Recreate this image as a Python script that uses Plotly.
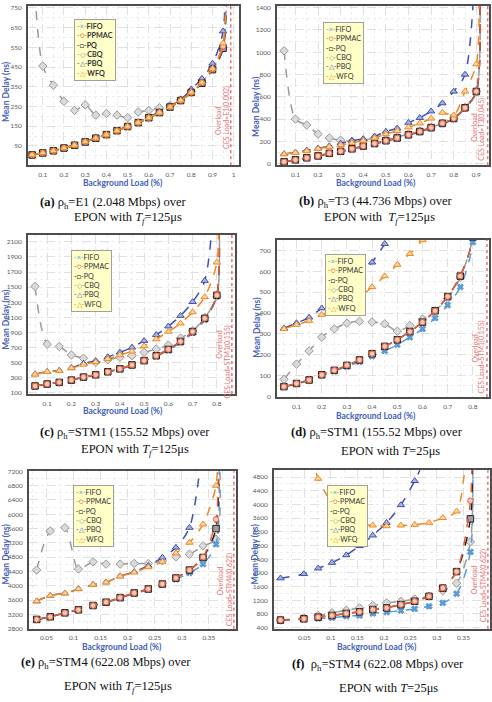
import plotly.graph_objects as go

W, H = 492, 702

# ---------------- data ----------------
series_names = ["FIFO", "PPMAC", "PQ", "CBQ", "PBQ", "WFQ"]

# (a) E1, Tf=125us
x_a = [0.05, 0.10, 0.15, 0.20, 0.25, 0.30, 0.35, 0.40, 0.45, 0.50, 0.55, 0.60, 0.65,
       0.70, 0.75, 0.80, 0.85, 0.90, 0.95, 0.952]
fifo_a = [3, 13, 24, 38, 52, 69, 88, 106, 126, 147, 167, 192, 218, 246, 279, 320, 368, 436, 545, 1500]
ppmac_a = [4, 14, 25, 39, 53, 70, 89, 107, 127, 148, 168, 193, 219, 247, 280, 321, 370, 440, 555, 1500]
pq_a = [4, 14, 25, 39, 53, 70, 89, 107, 127, 148, 168, 193, 219, 247, 280, 321, 368, 437, 545, 1500]
cbq_a = [1100, 455, 358, 276, 230, 258, 206, 214, 206, 193, 222, 230, 243, 255, 283, 325, 372, 445, 548, 1500]
pbq_a = [5, 15, 26, 40, 55, 72, 91, 109, 129, 150, 171, 196, 223, 252, 285, 337, 391, 468, 632, 1500]
wfq_a = [4, 14, 25, 39, 53, 70, 89, 107, 127, 148, 168, 193, 219, 247, 281, 322, 372, 442, 571, 1500]

# (b) T3, Tf=125us
x_b = [0.05, 0.10, 0.15, 0.20, 0.25, 0.30, 0.35, 0.40, 0.45, 0.50, 0.55, 0.60, 0.65,
       0.70, 0.75, 0.80, 0.85, 0.90, 0.902]
fifo_b = [16, 32, 50, 67, 89, 107, 130, 153, 176, 201, 225, 254, 283, 318, 356, 400, 495, 640, 2500]
ppmac_b = [18, 35, 53, 70, 93, 111, 134, 158, 181, 207, 231, 260, 289, 324, 362, 406, 502, 648, 2500]
pq_b = [18, 35, 53, 70, 93, 111, 134, 158, 181, 207, 231, 260, 289, 324, 362, 406, 502, 648, 2500]
cbq_b = [1013, 400, 347, 266, 231, 210, 201, 207, 231, 215, 240, 265, 292, 326, 364, 408, 505, 650, 2500]
pbq_b = [88, 102, 120, 138, 158, 182, 207, 222, 245, 289, 318, 368, 412, 470, 543, 648, 800, 2000, None]
wfq_b = [85, 99, 114, 134, 152, 169, 187, 207, 231, 266, 295, 327, 362, 406, 458, 435, 648, 893, 2500]

# (c) STM1, Tf=125us
x_c = [0.05, 0.10, 0.15, 0.20, 0.25, 0.30, 0.35, 0.40, 0.45, 0.50, 0.55, 0.60, 0.65,
       0.70, 0.75, 0.80, 0.802]
fifo_c = [190, 215, 238, 268, 308, 338, 378, 415, 466, 522, 585, 665, 768, 895, 1068, 1378, 3000]
ppmac_c = [192, 218, 240, 270, 310, 340, 380, 419, 471, 528, 593, 676, 781, 912, 1087, 1393, 3000]
pq_c = [192, 218, 240, 270, 310, 340, 380, 419, 471, 528, 593, 676, 781, 912, 1087, 1393, 3000]
cbq_c = [1510, 746, 716, 602, 559, 506, 537, 572, 593, 637, 681, 733, 825, 921, 1096, 1380, 3000]
pbq_c = [348, 382, 398, 432, 490, 525, 576, 637, 703, 790, 869, 982, 1122, 1305, 1585, 3200, None]
wfq_c = [345, 380, 393, 428, 476, 510, 550, 602, 650, 720, 812, 912, 1021, 1170, 1371, 1829, 3000]

# (d) STM1, T=25us
x_d = [0.05, 0.10, 0.15, 0.20, 0.25, 0.30, 0.35, 0.40, 0.45, 0.50, 0.55, 0.60, 0.65,
       0.70, 0.75, 0.80, 0.802]
fifo_d = [46, 60, 77, 101, 121, 143, 166, 193, 218, 248, 284, 324, 376, 438, 525, 740, 2000]
ppmac_d = [47, 62, 79, 104, 125, 149, 175, 205, 240, 272, 311, 356, 411, 479, 577, 765, 2000]
pq_d = [47, 62, 79, 104, 125, 149, 175, 205, 240, 272, 311, 356, 411, 479, 577, 765, 2000]
cbq_d = [82, 155, 218, 284, 324, 351, 360, 357, 348, 313, 340, 371, 411, 471, 572, 770, 2000]
pbq_d = [327, 352, 379, 423, 470, 520, 578, 643, 732, 840, None, None, None, None, None, None, None]
wfq_d = [324, 344, 363, 392, 414, 442, 476, 525, 577, 632, 684, 750, 820, None, None, None, None]

# (e) STM4, Tf=125us
x_e = [0.032, 0.057, 0.084, 0.109, 0.136, 0.160, 0.186, 0.212, 0.238, 0.264, 0.289,
       0.314, 0.339, 0.363, 0.365]
fifo_e = [3055, 3128, 3238, 3320, 3440, 3530, 3655, 3780, 3890, 4025, 4180, 4356, 4606, 5161, 9000]
ppmac_e = [3059, 3133, 3244, 3328, 3448, 3541, 3670, 3800, 3911, 4050, 4217, 4439, 4800, 5856, 9000]
pq_e = [3059, 3133, 3244, 3328, 3448, 3541, 3670, 3800, 3911, 4050, 4217, 4439, 4791, 5597, 9000]
cbq_e = [4439, 5532, 5624, 4467, 4670, 4606, 4606, 4624, 4624, 4700, 4809, 4883, 5115, 5300, 9000]
pbq_e = [3569, 3726, 3791, 3911, 4032, 4100, 4270, 4390, 4560, 4791, 5069, 5624, 8000, None, None]
wfq_e = [3569, 3726, 3791, 3911, 4032, 4096, 4263, 4374, 4522, 4670, 4911, 5208, 5717, 6800, 9000]

# (f) STM4, T=25us
x_f = [0.005, 0.049, 0.076, 0.102, 0.129, 0.154, 0.179, 0.205, 0.232, 0.258, 0.285,
       0.311, 0.337, 0.363, 0.365]
fifo_f = [612, 641, 670, 689, 737, 757, 815, 853, 901, 949, 1027, 1123, 1393, 2617, 7000]
ppmac_f = [622, 660, 708, 757, 815, 863, 930, 978, 1075, 1171, 1316, 1557, 2039, 4111, 7000]
pq_f = [622, 660, 708, 757, 815, 863, 930, 978, 1075, 1171, 1316, 1557, 2039, 3581, 7000]
cbq_f = [622, 689, 757, 834, 911, 978, 1046, 1123, 1171, 1239, 1316, 1480, 1701, 2906, 7000]
pbq_f = [1846, 1971, 2135, 2299, 2521, 2791, 3099, 3466, 3986, 4690, 5600, None, None, None, None]
wfq_f = [9000, 6500, 4757, 4050, 3620, 3430, 3390, 3370, 3390, 3410, 3470, 3610, 3800, 8000, None]

ces_labels = ["CES Load=E1(0.002)", "CES Load=T3(0.045)", "CES Load=STM1(0.155)",
              "CES Load=STM1(0.155)", "CES Load=STM4(0.622)", "CES Load=STM4(0.622)"]
overload_x = [0.986, 0.95, 0.862, 0.856, 0.396, 0.396]

x_ticks_a = [0.1, 0.2, 0.3, 0.4, 0.5, 0.6, 0.7, 0.8, 0.9, 1]
x_ticks_b = [0.1, 0.2, 0.3, 0.4, 0.5, 0.6, 0.7, 0.8, 0.9]
x_ticks_cd = [0.1, 0.2, 0.3, 0.4, 0.5, 0.6, 0.7, 0.8]
x_ticks_ef = [0.05, 0.1, 0.15, 0.2, 0.25, 0.3, 0.35]
y_ticks_a = [50, 150, 250, 350, 450, 550, 650, 750]
y_ticks_b = [0, 200, 400, 600, 800, 1000, 1200, 1400]
y_ticks_c = [100, 300, 500, 700, 900, 1100, 1300, 1500, 1700, 1900, 2100]
y_ticks_d = [0, 100, 200, 300, 400, 500, 600, 700]
y_ticks_e = [2800, 3200, 3600, 4000, 4400, 4800, 5200, 5600, 6000, 6400, 6800, 7200]
y_ticks_f = [400, 800, 1200, 1600, 2000, 2400, 2800, 3200, 3600, 4000, 4400, 4800]

captions = [
    ("<b>(a)</b> ρ<sub>h</sub>=E1 (2.048 Mbps) over", "EPON with <i>T<sub>f</sub></i>=125μs"),
    ("<b>(b)</b> ρ<sub>h</sub>=T3 (44.736 Mbps) over", "EPON with  <i>T<sub>f</sub></i>=125μs"),
    ("<b>(c)</b> ρ<sub>h</sub>=STM1 (155.52 Mbps) over", "EPON with <i>T<sub>f</sub></i>=125μs"),
    ("<b>(d)</b> ρ<sub>h</sub>=STM1 (155.52 Mbps) over", "EPON with <i>T</i>=25μs"),
    ("<b>(e)</b> ρ<sub>h</sub>=STM4 (622.08 Mbps) over", "EPON with <i>T<sub>f</sub></i>=125μs"),
    ("<b>(f)</b>  ρ<sub>h</sub>=STM4 (622.08 Mbps) over", "EPON with <i>T</i>=25μs"),
]

# ---------------- styles / layout ----------------
styles = {
    "FIFO": dict(color="#5B9BD5", symbol="x", fill="#5B9BD5", glyph="×", size=5.5),
    "PPMAC": dict(color="#E8603C", symbol="circle", fill="#F8C9B8", glyph="○", size=5.5),
    "PQ": dict(color="#222222", symbol="square", fill="#A89A9A", glyph="□", size=6.5),
    "CBQ": dict(color="#9A9A9A", symbol="diamond", fill="#DADADA", glyph="◇", size=6.5),
    "PBQ": dict(color="#3F4FB0", symbol="triangle-up", fill="#A8B2E0", glyph="△", size=6.5),
    "WFQ": dict(color="#EE8A22", symbol="triangle-up", fill="#FAD3A0", glyph="△", size=6.5),
}
draw_order = ["CBQ", "PBQ", "FIFO", "PQ", "PPMAC", "WFQ"]

panels = [
    dict(x=x_a, data=dict(FIFO=fifo_a, PPMAC=ppmac_a, PQ=pq_a, CBQ=cbq_a, PBQ=pbq_a, WFQ=wfq_a),
         box=(28, 240, 2, 163), xr=[0.03, 1.025], yr=[-49, 760], xt=x_ticks_a, yt=y_ticks_a,
         xminor=0.05, yminor=50),
    dict(x=x_b, data=dict(FIFO=fifo_b, PPMAC=ppmac_b, PQ=pq_b, CBQ=cbq_b, PBQ=pbq_b, WFQ=wfq_b),
         box=(278, 491, 2, 163), xr=[0.018, 0.956], yr=[-15, 1415], xt=x_ticks_b, yt=y_ticks_b,
         xminor=0.05, yminor=100),
    dict(x=x_c, data=dict(FIFO=fifo_c, PPMAC=ppmac_c, PQ=pq_c, CBQ=cbq_c, PBQ=pbq_c, WFQ=wfq_c),
         box=(28, 236, 233, 394), xr=[0.0205, 0.875], yr=[85, 2195], xt=x_ticks_cd, yt=y_ticks_c,
         xminor=0.05, yminor=100),
    dict(x=x_d, data=dict(FIFO=fifo_d, PPMAC=ppmac_d, PQ=pq_d, CBQ=cbq_d, PBQ=pbq_d, WFQ=wfq_d),
         box=(278, 491, 238, 397), xr=[0.022, 0.864], yr=[-3, 752], xt=x_ticks_cd, yt=y_ticks_d,
         xminor=0.05, yminor=50),
    dict(x=x_e, data=dict(FIFO=fifo_e, PPMAC=ppmac_e, PQ=pq_e, CBQ=cbq_e, PBQ=pbq_e, WFQ=wfq_e),
         box=(29, 237, 472, 631), xr=[0.0175, 0.40], yr=[2800, 7200], xt=x_ticks_ef, yt=y_ticks_e,
         xminor=0.025, yminor=200),
    dict(x=x_f, data=dict(FIFO=fifo_f, PPMAC=ppmac_f, PQ=pq_f, CBQ=cbq_f, PBQ=pbq_f, WFQ=wfq_f),
         box=(275, 492, 471, 631), xr=[-0.0075, 0.40], yr=[370, 5000], xt=x_ticks_ef, yt=y_ticks_f,
         xminor=0.025, yminor=200),
]

# pixel positions of texts
cap_pos = [((114, 200.5), (128.5, 216)), ((377.5, 200), (381, 216)),
           ((126, 433.5), (136, 450.5)), ((379, 433.5), (392, 451)),
           ((106, 665.5), (118.5, 690)), ((380, 667.5), (390, 691))]
xtitle_pos = [(124, 181), (378, 181), (123, 411), (377.5, 416), (122.5, 649), (379, 649)]
ytitle_pos = [(6, 88), (257, 103), (6, 318), (258, 326), (6, 555), (257, 555)]
legend_pos = [(74, 15), (324, 18), (71, 248), (326, 253), (73, 486), (328, 486)]
overload_pos = [((219, 118), (228, 115)), ((476, 125), (484, 127)),
                ((219, 344), (228, 362)), ((476, 348), (483, 357)),
                ((221, 583), (230, 592)), ((476, 582), (485, 588))]


def px(x):
    return x / W


def py(y):
    return 1 - y / H


fig = go.Figure()
layout = dict(width=W, height=H, margin=dict(l=0, r=0, t=0, b=0),
              paper_bgcolor="white", plot_bgcolor="white", showlegend=False)
annotations = []
shapes = []

AX_BLUE = "#4460B8"
TITLE_FONT = dict(family="Lato", size=8.5, color=AX_BLUE)
TICK_FONT = dict(family="Lato", size=6.5, color="#595959")
RED = "#E57373"

for i, p in enumerate(panels):
    n = "" if i == 0 else str(i + 1)
    xa_name, ya_name = "x" + n, "y" + n
    l, r, t, b = p["box"]
    for name in draw_order:
        st = styles[name]
        fig.add_trace(go.Scatter(
            x=p["x"], y=p["data"][name], name=name, xaxis=xa_name, yaxis=ya_name,
            mode="lines+markers",
            line=dict(color=st["color"], width=1.5, dash="dash", shape="spline", smoothing=0.8),
            marker=dict(symbol=st["symbol"], size=st["size"],
                        color=st["fill"], line=dict(color=st["color"], width=1)),
            connectgaps=False, cliponaxis=True))
    layout["xaxis" + n] = dict(
        domain=[px(l), px(r)], range=p["xr"], anchor=ya_name, tickvals=p["xt"],
        ticktext=[("%g" % v) for v in p["xt"]], tickfont=TICK_FONT, ticks="",
        showline=True, mirror=True, linecolor="#4D4D4D", linewidth=1.5, zeroline=False,
        showgrid=True, gridcolor="#E0E0E0", griddash="dash", gridwidth=0.8,
        minor=dict(dtick=p["xminor"], tick0=0, showgrid=True, gridcolor="#EDEDED", griddash="dot"),
        ticklabelstandoff=2, ticklabeloverflow="allow")
    layout["yaxis" + n] = dict(
        domain=[py(b), py(t)], range=p["yr"], anchor=xa_name, tickvals=p["yt"],
        tickfont=TICK_FONT, ticks="", showline=True, mirror=True, linecolor="#4D4D4D",
        linewidth=1.5, zeroline=False, showgrid=True, gridcolor="#E0E0E0", griddash="dash",
        gridwidth=0.8,
        minor=dict(dtick=p["yminor"], tick0=0, showgrid=True, gridcolor="#EDEDED", griddash="dot"),
        ticklabelstandoff=3, ticklabeloverflow="allow")

    # overload line
    shapes.append(dict(type="line", xref=xa_name, yref="y" + n + " domain" if n else "y domain",
                       x0=overload_x[i], x1=overload_x[i], y0=0, y1=1,
                       line=dict(color=RED, width=1.5, dash="dot")))
    (ox, oy), (cx, cy) = overload_pos[i]
    annotations.append(dict(text="Overload", x=px(ox), y=py(oy), xref="paper", yref="paper",
                            showarrow=False, textangle=-90, font=dict(family="Lato", size=7, color=RED),
                            xanchor="center", yanchor="middle"))
    annotations.append(dict(text=ces_labels[i], x=px(cx), y=py(cy), xref="paper", yref="paper",
                            showarrow=False, textangle=-90, font=dict(family="Lato", size=7, color=RED),
                            xanchor="center", yanchor="middle"))

    # axis titles
    tx, ty = xtitle_pos[i]
    annotations.append(dict(text="<b>Background Load (%)</b>", x=px(tx), y=py(ty), xref="paper",
                            yref="paper", showarrow=False, font=TITLE_FONT,
                            xanchor="center", yanchor="middle"))
    tx, ty = ytitle_pos[i]
    annotations.append(dict(text="<b>Mean Delay (ns)</b>", x=px(tx), y=py(ty), xref="paper",
                            yref="paper", showarrow=False, font=TITLE_FONT, textangle=-90,
                            xanchor="center", yanchor="middle"))

    # legend box
    lines = []
    for name in series_names:
        st = styles[name]
        label = "<b>%s</b>" % name if i == 0 else name
        lines.append("<span style='color:%s'>-%s-</span>%s" % (st["color"], st["glyph"], label))
    lx, ly = legend_pos[i]
    annotations.append(dict(text="<br>".join(lines), x=px(lx), y=py(ly), xref="paper", yref="paper",
                            showarrow=False, align="left", xanchor="left", yanchor="top",
                            font=dict(family="Lato", size=7.2, color="#333333"),
                            bgcolor="#FFFFC8", bordercolor="#A0A0A0", borderwidth=1, borderpad=2))

    # captions
    (c1x, c1y), (c2x, c2y) = cap_pos[i]
    l1, l2 = captions[i]
    for txt, cx_, cy_ in ((l1, c1x, c1y), (l2, c2x, c2y)):
        annotations.append(dict(text=txt, x=px(cx_), y=py(cy_), xref="paper", yref="paper",
                                showarrow=False, xanchor="center", yanchor="middle",
                                font=dict(family="Liberation Serif", size=12.5, color="#111111")))

layout["annotations"] = annotations
layout["shapes"] = shapes
fig.update_layout(**layout)
fig.write_html("out.html")
